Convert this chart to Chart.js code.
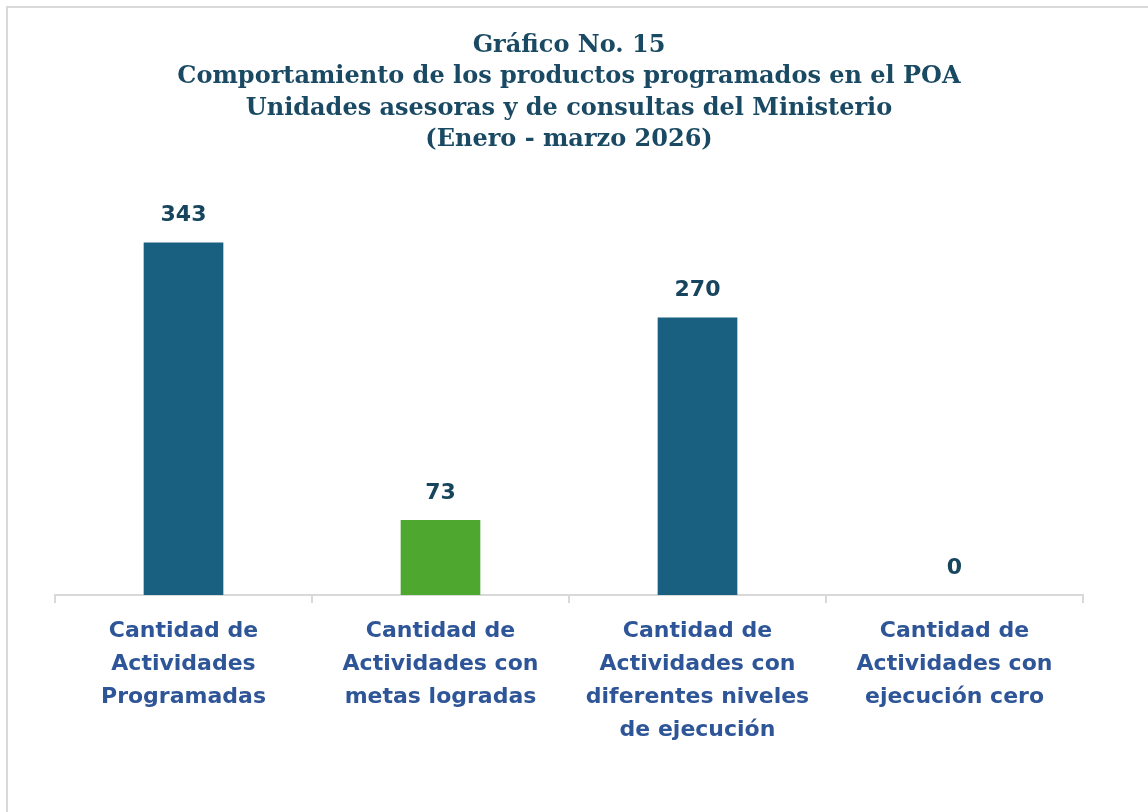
<!DOCTYPE html>
<html>
<head>
<meta charset="utf-8">
<script src="https://cdn.jsdelivr.net/npm/chart.js@4"></script>
<style>
    html, body { margin: 0; padding: 0; background: #fff; overflow: hidden; }
    #wrap { position: relative; width: 1148px; height: 812px; }
    #frame { position: absolute; left: 6px; top: 6px; width: 1200px; height: 900px; border: 2px solid #d9d9d9; box-sizing: border-box; }
    canvas { position: absolute; left: 0; top: 0; }
</style>
</head>
<body>
<div id="wrap">
    <div id="frame"></div>
    <canvas id="chart" width="1148" height="812"></canvas>
</div>
<script>
const titleLines = [
    'Gráfico No. 15',
    'Comportamiento de los productos programados en el POA',
    'Unidades asesoras y de consultas del Ministerio',
    '(Enero - marzo 2026)'
];
const categories = [
    ['Cantidad de', 'Actividades', 'Programadas'],
    ['Cantidad de', 'Actividades con', 'metas logradas'],
    ['Cantidad de', 'Actividades con', 'diferentes niveles', 'de ejecución'],
    ['Cantidad de', 'Actividades con', 'ejecución cero']
];
const values = [343, 73, 270, 0];
const barColors = ['#185f80', '#4ea72e', '#185f80', '#185f80'];

// value labels above each bar
const valueLabels = {
    id: 'valueLabels',
    afterDatasetsDraw(chart) {
        const ctx = chart.ctx;
        const meta = chart.getDatasetMeta(0);
        ctx.save();
        ctx.font = 'bold 22px "DejaVu Sans", sans-serif';
        ctx.fillStyle = '#17455e';
        ctx.textAlign = 'center';
        ctx.textBaseline = 'middle';
        meta.data.forEach((bar, i) => {
            ctx.fillText(String(values[i]), bar.x, bar.y - 27);
        });
        ctx.restore();
    }
};

new Chart(document.getElementById('chart').getContext('2d'), {
    type: 'bar',
    data: {
        labels: categories,
        datasets: [{
            data: values,
            backgroundColor: barColors,
            categoryPercentage: 1,
            barPercentage: 0.31
        }]
    },
    options: {
        responsive: false,
        animation: false,
        layout: { padding: { left: 55, right: 65, top: 30, bottom: 53 } },
        plugins: {
            legend: { display: false },
            tooltip: { enabled: false },
            title: {
                display: true,
                text: titleLines,
                color: '#1a4a63',
                font: { family: '"DejaVu Serif", serif', size: 24, weight: 'bold', lineHeight: 31.5 / 24 },
                padding: { top: 0, bottom: 28 }
            }
        },
        scales: {
            x: {
                grid: { offset: true, drawOnChartArea: false, tickLength: 8, color: '#d9d9d9', lineWidth: 2 },
                border: { color: '#d9d9d9', width: 2 },
                ticks: {
                    color: '#2e5597',
                    maxRotation: 0,
                    autoSkip: false,
                    padding: 12,
                    font: { family: '"DejaVu Sans", sans-serif', size: 22, weight: 'bold', lineHeight: 33 / 22 }
                }
            },
            y: { display: false, min: 0, max: 400 }
        }
    },
    plugins: [valueLabels]
});
</script>
</body>
</html>
